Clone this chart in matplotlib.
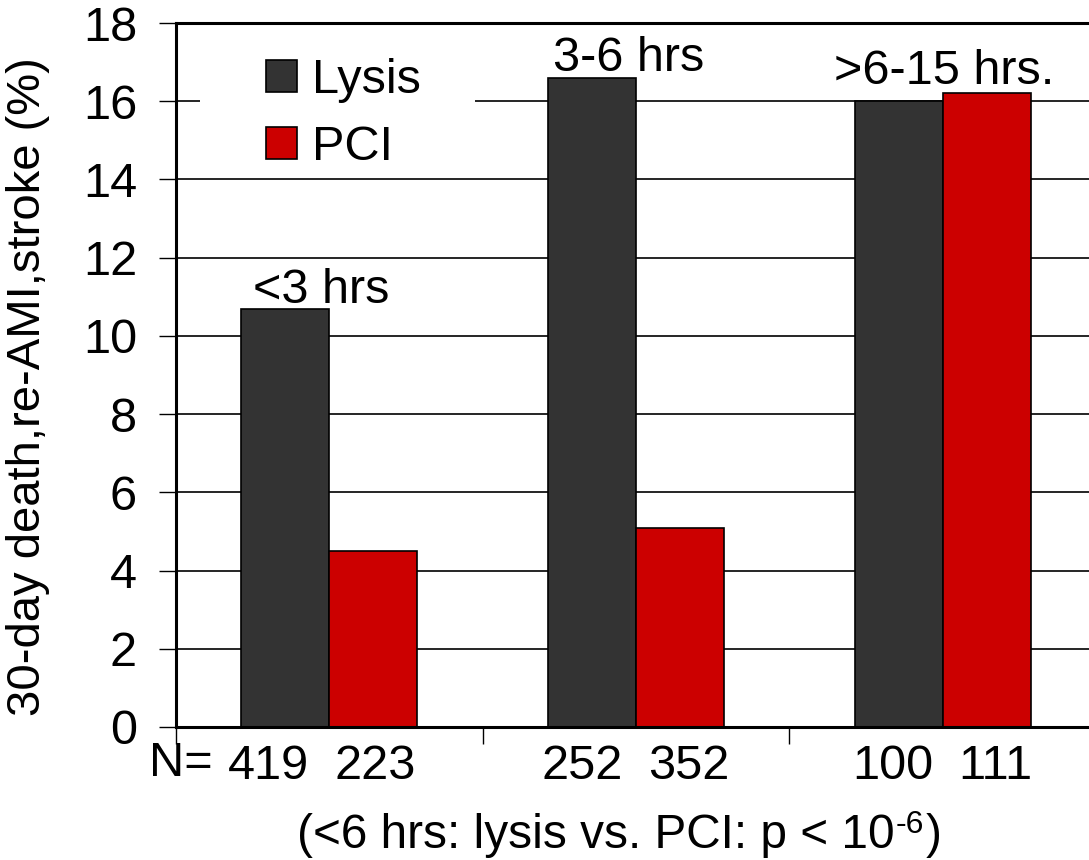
import matplotlib
matplotlib.use("Agg")
import matplotlib.pyplot as plt
from matplotlib.patches import Patch, Rectangle
import numpy as np

plt.rcParams['font.family'] = ['Liberation Sans', 'DejaVu Sans']

groups = ['<3 hrs', '3-6 hrs', '>6-15 hrs.']
lysis = [10.7, 16.6, 16.0]
pci = [4.5, 5.1, 16.2]
n_lysis = [419, 252, 100]
n_pci = [223, 352, 111]
series_names = ['Lysis', 'PCI']
colors = ['#333333', '#CC0000']
yticks = [0, 2, 4, 6, 8, 10, 12, 14, 16, 18]
note_main = '(<6 hrs: lysis vs. PCI: p < 10'
note_exp = '-6'
note_end = ')'

FS = 35
FS_NOTE = 34.4
W, H = 1089, 860
fig = plt.figure(figsize=(W / 100, H / 100), dpi=100)
ax = fig.add_axes([176 / W, (H - 727) / H, (1096 - 176) / W, (727 - 23) / H])

x = np.arange(len(groups))
bw = 0.287
ax.bar(x - bw / 2, lysis, bw, color=colors[0], edgecolor='black', linewidth=1.2, zorder=3)
ax.bar(x + bw / 2, pci, bw, color=colors[1], edgecolor='black', linewidth=1.2, zorder=3)

ax.set_xlim(-0.5, len(groups) - 0.5)
ax.set_ylim(0, 18)
ax.set_yticks(yticks)
ax.set_yticklabels([str(v) for v in yticks], fontsize=FS)
ax.set_xticks(np.arange(len(groups) + 1) - 0.5)
ax.set_xticklabels([])
ax.tick_params(axis='y', direction='out', length=12, width=1, pad=16)
ax.tick_params(axis='x', direction='out', length=12, width=1)
for yv in yticks[1:-1]:
    ax.axhline(yv, color='black', linewidth=1.2, zorder=1)
ax.spines['right'].set_visible(False)
for s in ['top', 'left', 'bottom']:
    ax.spines[s].set_linewidth(2.2)
    ax.spines[s].set_zorder(6)

# group labels (above the lysis bar for first two, above tallest for last)
label_refs = [lysis[0], lysis[1], max(lysis[2], pci[2])]
label_offsets = [(-6, 4), (-5, 5), (1, 7)]
for i, g in enumerate(groups):
    ax.annotate(g, (x[i], label_refs[i]), xytext=label_offsets[i], textcoords='offset points',
                ha='center', va='baseline', fontsize=FS)

# N labels
trans = ax.get_xaxis_transform()
n_dx_l = [-12, -7, -4]
n_dx_p = [1, 6, 6]
for i in range(len(groups)):
    ax.annotate(str(n_lysis[i]), (x[i] - bw / 2, 0), xycoords=trans, xytext=(n_dx_l[i], -12),
                textcoords='offset points', ha='center', va='top', fontsize=FS)
    ax.annotate(str(n_pci[i]), (x[i] + bw / 2, 0), xycoords=trans, xytext=(n_dx_p[i], -12),
                textcoords='offset points', ha='center', va='top', fontsize=FS)
fig.text(181 / W, (H - 763) / H, 'N=', ha='center', va='center', fontsize=FS)

ax.set_ylabel('30-day death,re-AMI,stroke (%)', fontsize=34)
ax.yaxis.label.set_va('center')
ax.yaxis.set_label_coords((28 - 176) / 920, (727 - 387) / 704)

# footnote with superscript exponent
t1 = fig.text(297 / W, (H - 848) / H, note_main, ha='left', va='baseline', fontsize=FS_NOTE)
t2 = ax.annotate(note_exp, xy=(1, (H - 833) / H), xycoords=(t1, 'figure fraction'),
                 xytext=(1, 0), textcoords='offset points',
                 ha='left', va='baseline', fontsize=23, annotation_clip=False)
t3 = ax.annotate(note_end, xy=(1, (H - 848) / H), xycoords=(t2, 'figure fraction'),
                 xytext=(1, 0), textcoords='offset points',
                 ha='left', va='baseline', fontsize=FS_NOTE, annotation_clip=False)

# white backing behind legend
ax.add_patch(Rectangle((200 / W, (H - 172) / H), 275 / W, 140 / H, transform=fig.transFigure,
                       facecolor='white', edgecolor='none', zorder=4))
handles = [Patch(facecolor=c, edgecolor='black', linewidth=1.2) for c in colors]
leg = ax.legend(handles, series_names, loc='upper left', bbox_to_anchor=(266 / W, (H - 58) / H),
                bbox_transform=fig.transFigure, fontsize=FS, frameon=False,
                handlelength=0.64, handleheight=0.64, handletextpad=0.3, labelspacing=0.45,
                borderpad=0, borderaxespad=0)
leg.set_zorder(5)

fig.savefig('out.png', dpi=100)
